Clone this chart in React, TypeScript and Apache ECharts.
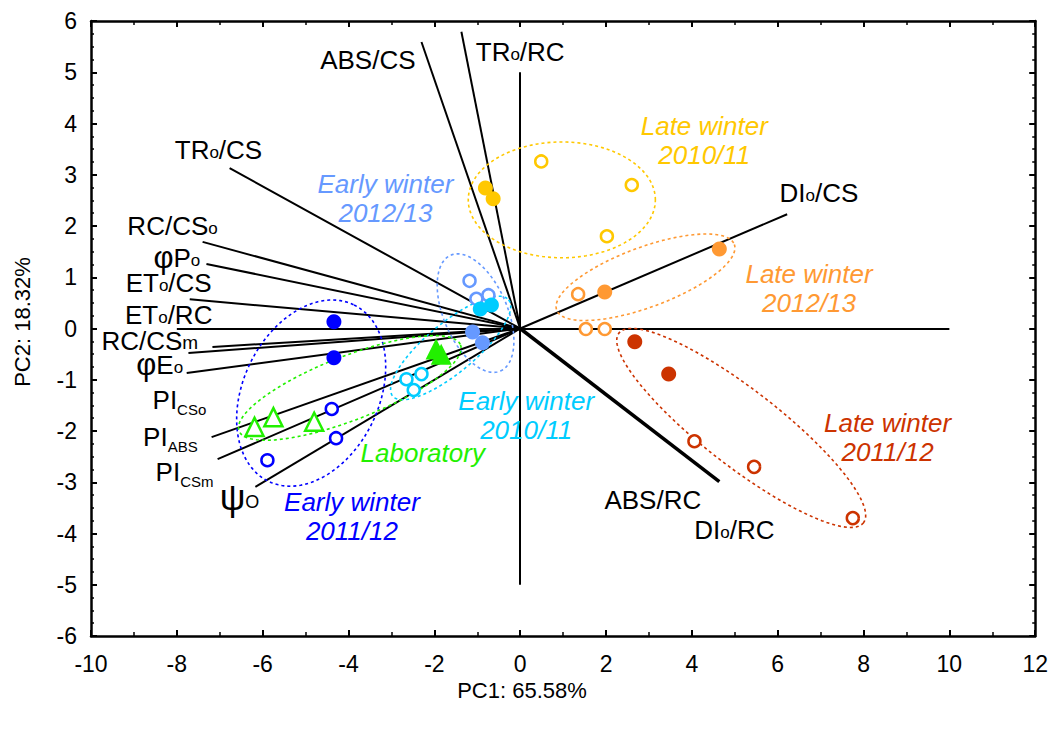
import React, { useEffect, useRef } from "react";
import * as echarts from "echarts";

const FONT = '"Liberation Sans", Arial, sans-serif';

// Axes
const xRange = [-10, 12];
const xStep = 2;
const yRange = [-6, 6];
const yStep = 1;
const xTitle = "PC1: 65.58%";
const yTitle = "PC2: 18.32%";

// Group colours
const cYellow = "#FFC800";
const cOrange = "#FF9933";
const cRed = "#CC3300";
const cCorn = "#6699FF";
const cCyan = "#00CCFF";
const cBlue = "#0000FF";
const cGreen = "#22F000";

// Scores (PC1, PC2)
const lateWinter1011Filled = [[-0.81, 2.74], [-0.63, 2.53]];
const lateWinter1011Open = [[0.49, 3.26], [2.6, 2.8], [2.02, 1.8]];
const lateWinter1213Filled = [[4.64, 1.55], [1.97, 0.71]];
const lateWinter1213Open = [[1.35, 0.67], [1.53, -0.01], [1.97, -0.01]];
const lateWinter1112Filled = [[2.67, -0.26], [3.46, -0.89]];
const lateWinter1112Open = [[4.06, -2.2], [5.45, -2.7], [7.75, -3.7]];
const earlyWinter1213Filled = [[-1.11, -0.07], [-0.88, -0.28]];
const earlyWinter1213Open = [[-1.18, 0.93], [-1.02, 0.58], [-0.74, 0.65]];
const earlyWinter1011Filled = [[-0.93, 0.38], [-0.67, 0.46]];
const earlyWinter1011Open = [[-2.65, -0.99], [-2.3, -0.89], [-2.48, -1.2]];
const earlyWinter1112Filled = [[-4.34, 0.13], [-4.34, -0.57]];
const earlyWinter1112Open = [[-4.39, -1.57], [-4.29, -2.14], [-5.89, -2.57]];
const laboratoryFilled = [[-1.96, -0.4], [-1.84, -0.5]];
const laboratoryOpen = [[-6.19, -1.92], [-5.75, -1.73], [-4.8, -1.82]];

// Loading vectors (end points, start at origin)
const vectorEnds = [
  [-2.3, 5.59], [-1.37, 5.79], [-6.77, 3.13], [-7.4, 1.69], [-7.31, 1.26],
  [-7.7, 0.57], [-7.17, -0.36], [-7.73, -0.48], [-7.77, -0.87],
  [-7.19, -2.12], [-7.05, -2.55], [-6.17, -3.09], [6.22, 2.23],
];
const thickVectorEnds = [[4.64, -2.99]];
// Reference cross
const crossH = [[-8, 0], [10, 0]];
const crossV = [[0, -5], [0, 5]];

// Vector labels
const vectorLabelText = [
  "ABS/CS", "TR{o|o}/RC", "TR{o|o}/CS", "RC/CS{o|o}", "{phi|φ}P{o|o}",
  "ET{o|o}/CS", "ET{o|o}/RC", "RC/CS{m|m}", "{phi|φ}E{o|o}",
  "PI{sub|CSo}", "PI{sub|ABS}", "PI{sub|CSm}", "{psi|ψ}{po|O}",
  "DI{o|o}/CS", "ABS/RC", "DI{o|o}/RC",
];
const vectorLabelPos = [
  [-3.55, 5.24], [0.0, 5.39], [-7.03, 3.48], [-8.1, 2.0], [-8.0, 1.38],
  [-8.19, 0.89], [-8.19, 0.26], [-8.63, -0.24], [-8.4, -0.71],
  [-7.94, -1.4], [-8.15, -2.12], [-7.82, -2.8], [-6.54, -3.29],
  [6.96, 2.64], [3.09, -3.35], [4.99, -3.93],
];

// Group labels
const groupLabelText = [
  "Late winter\n2010/11", "Early winter\n2012/13", "Late winter\n2012/13",
  "Late winter\n2011/12", "Early winter\n2010/11", "Laboratory", "Early winter\n2011/12",
];
const groupLabelPos = [
  [4.29, 3.66], [-3.14, 2.53], [6.73, 0.79], [8.56, -2.12], [0.14, -1.69], [-2.27, -2.43], [-3.92, -3.66],
];
const groupLabelColor = [cYellow, cCorn, cOrange, cRed, cCyan, cGreen, cBlue];

// Confidence ellipses: centre (x,y), semi-axis a (dx,dy), semi-axis b (dx,dy)
const ellipseParams = [
  [0.97, 2.51, 2.18, 0, 0, 1.13],
  [2.92, 1.0, 2.07, 0.64, 0.24, -0.55],
  [5.15, -1.94, 2.85, -1.85, -0.54, -0.59],
  [-1.04, 0.3, 0.58, -1.13, 0.68, 0.25],
  [-1.62, -0.38, 1.35, 0.94, 0.37, -0.37],
  [-4.87, -1.26, 1.0, 1.72, 1.42, -0.585],
  [-3.97, -1.16, 2.58, 0.84, 0.27, -0.58],
];
const ellipseColor = [cYellow, cOrange, cRed, cCorn, cCyan, cBlue, cGreen];

function makeAxisCommon() {
  return {
    type: "value" as const,
    axisLine: { show: true, onZero: false, lineStyle: { color: "#000", width: 2.5 } },
    axisTick: { show: true, inside: true, length: 6, lineStyle: { color: "#000", width: 2 } },
    splitLine: { show: false },
  };
}

export default function App() {
  const ref = useRef<HTMLDivElement>(null);
  useEffect(() => {
    if (!ref.current) return;
    const chart = echarts.init(ref.current, undefined, { renderer: "svg" });

    const filled = (data: number[][], color: string, symbol = "circle", size = 15) => ({
      type: "scatter",
      data,
      symbol,
      symbolSize: size,
      itemStyle: { color, opacity: 1 },
      z: 5,
    });
    const open = (data: number[][], color: string, symbol = "circle", size = 12) => ({
      type: "scatter",
      data,
      symbol,
      symbolSize: size,
      itemStyle: { color: "#fff", borderColor: color, borderWidth: 2.5, opacity: 1 },
      z: 5,
    });

    const richStyles = {
      o: { fontSize: 17, fontFamily: FONT, fill: "#000", verticalAlign: "bottom", lineHeight: 17 },
      m: { fontSize: 19, fontFamily: FONT, fill: "#000", verticalAlign: "bottom", lineHeight: 18 },
      sub: { fontSize: 15, fontFamily: FONT, fill: "#000", verticalAlign: "bottom", padding: [18, 0, 0, 0] },
      phi: { fontSize: 31, fontFamily: FONT, fill: "#000", lineHeight: 22 },
      psi: { fontSize: 36, fontFamily: FONT, fill: "#000", lineHeight: 28 },
      po: { fontSize: 18, fontFamily: FONT, fill: "#000", verticalAlign: "bottom", lineHeight: 18, padding: [10, 0, 0, 0] },
    };

    const option: any = {
      animation: false,
      backgroundColor: "#fff",
      grid: { left: 91, right: 12, top: 21, bottom: 96 },
      graphic: [
        {
          type: "text",
          x: 522,
          y: 690,
          style: { text: xTitle, fontSize: 22, fontFamily: FONT, fill: "#000", align: "center", verticalAlign: "middle" },
        },
        {
          type: "text",
          x: 22,
          y: 322,
          rotation: Math.PI / 2,
          style: { text: yTitle, fontSize: 22, fontFamily: FONT, fill: "#000", align: "center", verticalAlign: "middle" },
        },
      ],
      xAxis: [
        {
          ...makeAxisCommon(),
          min: xRange[0], max: xRange[1], interval: xStep, position: "bottom",
          minorTick: { show: true, splitNumber: 2, length: 4, lineStyle: { color: "#000", width: 1.5 } },
          axisLabel: { color: "#000", fontSize: 23, fontFamily: FONT, margin: 16 },
        },
        {
          ...makeAxisCommon(),
          min: xRange[0], max: xRange[1], interval: xStep, position: "top",
          minorTick: { show: true, splitNumber: 2, length: 4, lineStyle: { color: "#000", width: 1.5 } },
          axisLabel: { show: false },
        },
      ],
      yAxis: [
        {
          ...makeAxisCommon(),
          min: yRange[0], max: yRange[1], interval: yStep, position: "left",
          minorTick: { show: true, splitNumber: 4, length: 3, lineStyle: { color: "#000", width: 1.5 } },
          axisLabel: { color: "#000", fontSize: 23, fontFamily: FONT, margin: 14 },
        },
        {
          ...makeAxisCommon(),
          min: yRange[0], max: yRange[1], interval: yStep, position: "right",
          minorTick: { show: true, splitNumber: 4, length: 3, lineStyle: { color: "#000", width: 1.5 } },
          axisLabel: { show: false },
        },
      ],
      series: [
        {
          type: "lines",
          coordinateSystem: "cartesian2d",
          polyline: false,
          lineStyle: { color: "#000", width: 2, opacity: 1 },
          data: [
            { coords: crossH },
            { coords: crossV },
            ...vectorEnds.map((e) => ({ coords: [[0, 0], e] })),
            ...thickVectorEnds.map((e) => ({ coords: [[0, 0], e], lineStyle: { width: 3.5 } })),
          ],
          z: 2,
          silent: true,
        },
        {
          type: "custom",
          data: ellipseParams.map((p) => [p[0], p[1]]),
          encode: { x: 0, y: 1 },
          z: 3,
          silent: true,
          renderItem: (params: any, api: any) => {
            const p = ellipseParams[params.dataIndex];
            const pts: number[][] = [];
            const n = 120;
            for (let i = 0; i < n; i++) {
              const t = (i / n) * Math.PI * 2;
              pts.push(
                api.coord([
                  p[0] + p[2] * Math.cos(t) + p[4] * Math.sin(t),
                  p[1] + p[3] * Math.cos(t) + p[5] * Math.sin(t),
                ])
              );
            }
            return {
              type: "polygon",
              shape: { points: pts },
              style: { fill: "none", stroke: ellipseColor[params.dataIndex], lineWidth: 1.6, lineDash: [3, 3] },
            };
          },
        },
        open(lateWinter1011Open, cYellow),
        filled(lateWinter1011Filled, cYellow),
        open(lateWinter1213Open, cOrange),
        filled(lateWinter1213Filled, cOrange),
        open(lateWinter1112Open, cRed),
        filled(lateWinter1112Filled, cRed),
        open(earlyWinter1213Open, cCorn),
        filled(earlyWinter1213Filled, cCorn),
        open(earlyWinter1011Open, cCyan),
        filled(earlyWinter1011Filled, cCyan),
        open(earlyWinter1112Open, cBlue),
        filled(earlyWinter1112Filled, cBlue),
        open(laboratoryOpen, cGreen, "triangle", 18),
        filled(laboratoryFilled, cGreen, "triangle", 21),
        {
          type: "custom",
          data: vectorLabelPos,
          encode: { x: 0, y: 1 },
          z: 6,
          silent: true,
          renderItem: (params: any, api: any) => {
            const c = api.coord(vectorLabelPos[params.dataIndex]);
            const txt = vectorLabelText[params.dataIndex];
            const style: any = {
              text: txt,
              fontSize: 26,
              fontFamily: FONT,
              fill: "#000",
              align: "center",
              verticalAlign: "middle",
              rich: richStyles,
            };
            if (txt.indexOf("{sub|") < 0) style.lineHeight = 22;
            return { type: "text", x: c[0], y: c[1], style };
          },
        },
        {
          type: "custom",
          data: groupLabelPos,
          encode: { x: 0, y: 1 },
          z: 6,
          silent: true,
          renderItem: (params: any, api: any) => {
            const c = api.coord(groupLabelPos[params.dataIndex]);
            return {
              type: "text",
              x: c[0],
              y: c[1],
              style: {
                text: groupLabelText[params.dataIndex],
                fontSize: 26,
                fontStyle: "italic",
                fontFamily: FONT,
                fill: groupLabelColor[params.dataIndex],
                align: "center",
                verticalAlign: "middle",
                lineHeight: 29,
              },
            };
          },
        },
      ],
    };
    chart.setOption(option);
    return () => chart.dispose();
  }, []);

  return (
    <div
      ref={ref}
      style={{ position: "fixed", left: 0, top: 0, width: 1051, height: 732, background: "#fff" }}
    />
  );
}
